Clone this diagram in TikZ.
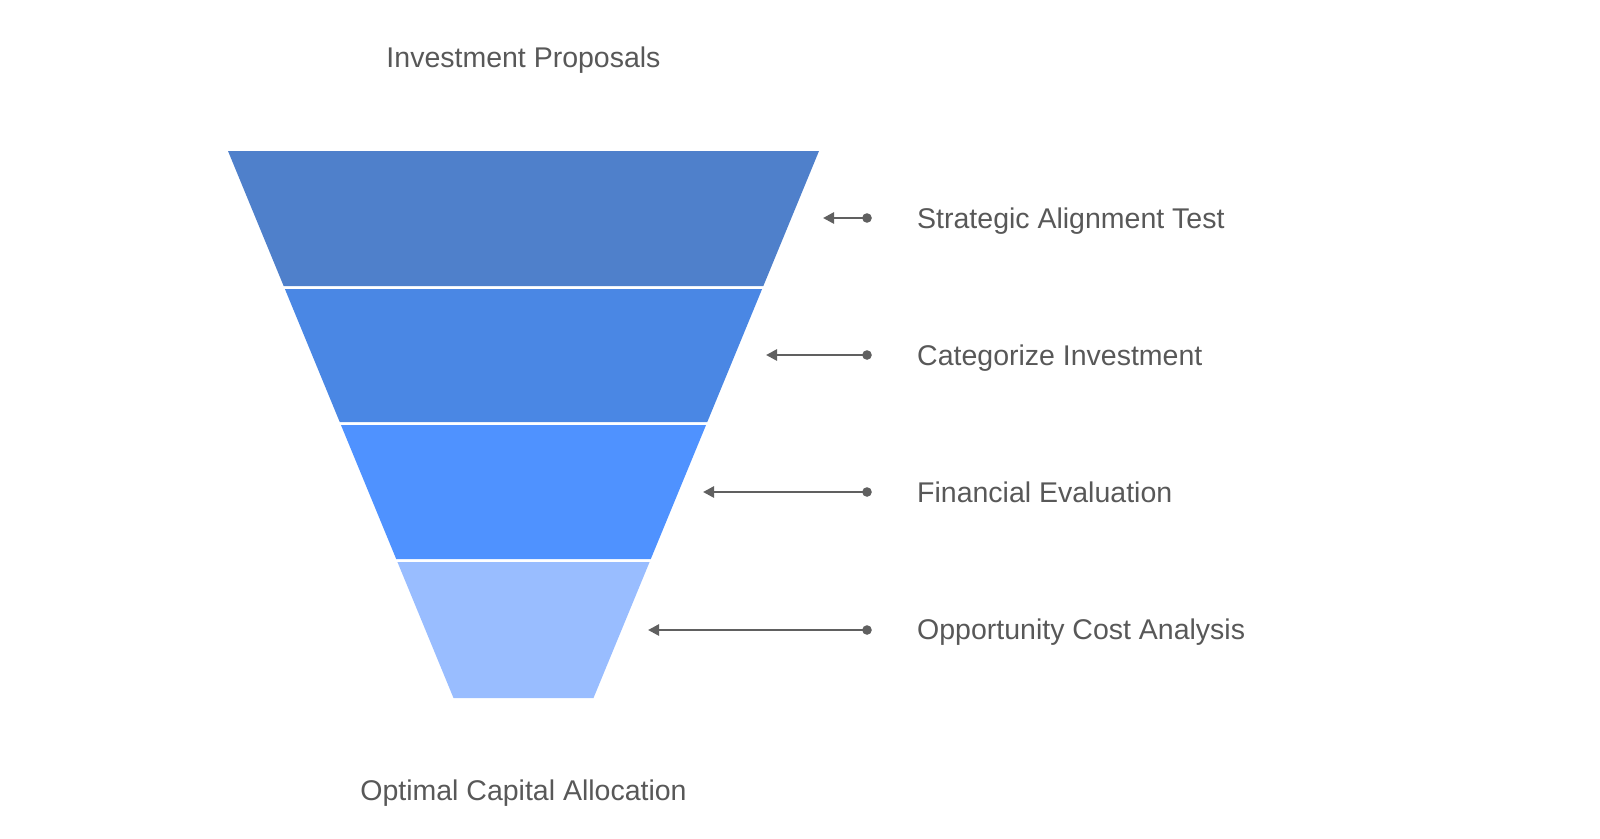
\documentclass[tikz,border=0pt]{standalone}
\usepackage{fontspec}
\setmainfont{Liberation Sans}
\usetikzlibrary{arrows.meta}
\definecolor{bandA}{RGB}{79,128,203}
\definecolor{bandB}{RGB}{74,135,228}
\definecolor{bandC}{RGB}{79,146,255}
\definecolor{bandD}{RGB}{153,189,255}
\definecolor{txtgray}{RGB}{88,88,88}
\definecolor{arrgray}{RGB}{96,96,96}
\tikzset{
  lbl/.style={text=txtgray, font=\fontsize{28.5}{34}\selectfont, inner sep=0pt},
  conn/.style={arrgray, line width=2.6pt, -{Triangle[length=11pt,width=11pt]}},
  dotmark/.style={fill=arrgray, draw=none},
}
\begin{document}
\begin{tikzpicture}[x=1pt,y=-1pt]
\useasboundingbox (0,0) rectangle (1600,838);
% funnel bands (centre x = 523.5)
\fill[bandA] (523.5-295.5,151) -- (523.5+295.5,151) -- (523.5+239.85,286) -- (523.5-239.85,286) -- cycle;
\fill[bandB] (523.5-238.6,289) -- (523.5+238.6,289) -- (523.5+183.78,422) -- (523.5-183.78,422) -- cycle;
\fill[bandC] (523.5-182.54,425) -- (523.5+182.54,425) -- (523.5+127.3,559) -- (523.5-127.3,559) -- cycle;
\fill[bandD] (523.5-126.07,562) -- (523.5+126.07,562) -- (523.5+70,698) -- (523.5-70,698) -- cycle;
% titles
\node[lbl, anchor=base] (top) at (523.5,67) {Investment Proposals};
\node[lbl, anchor=base] (bot) at (523.5,800) {Optimal Capital Allocation};
% stage labels
\node[lbl, anchor=base west] (l1) at (917,228) {Strategic Alignment Test};
\node[lbl, anchor=base west] (l2) at (917,365) {Categorize Investment};
\node[lbl, anchor=base west] (l3) at (917,502) {Financial Evaluation};
\node[lbl, anchor=base west] (l4) at (917,639) {Opportunity Cost Analysis};
% connector ends
\coordinate (s1) at (867,218); \coordinate (t1) at (823,218);
\coordinate (s2) at (867,355); \coordinate (t2) at (766,355);
\coordinate (s3) at (867,492); \coordinate (t3) at (703,492);
\coordinate (s4) at (867,630); \coordinate (t4) at (648,630);
\foreach \i in {1,2,3,4}{
  \draw[conn] (s\i) -- (t\i);
  \fill[dotmark] (s\i) circle (4.8);
}
\end{tikzpicture}
\end{document}
